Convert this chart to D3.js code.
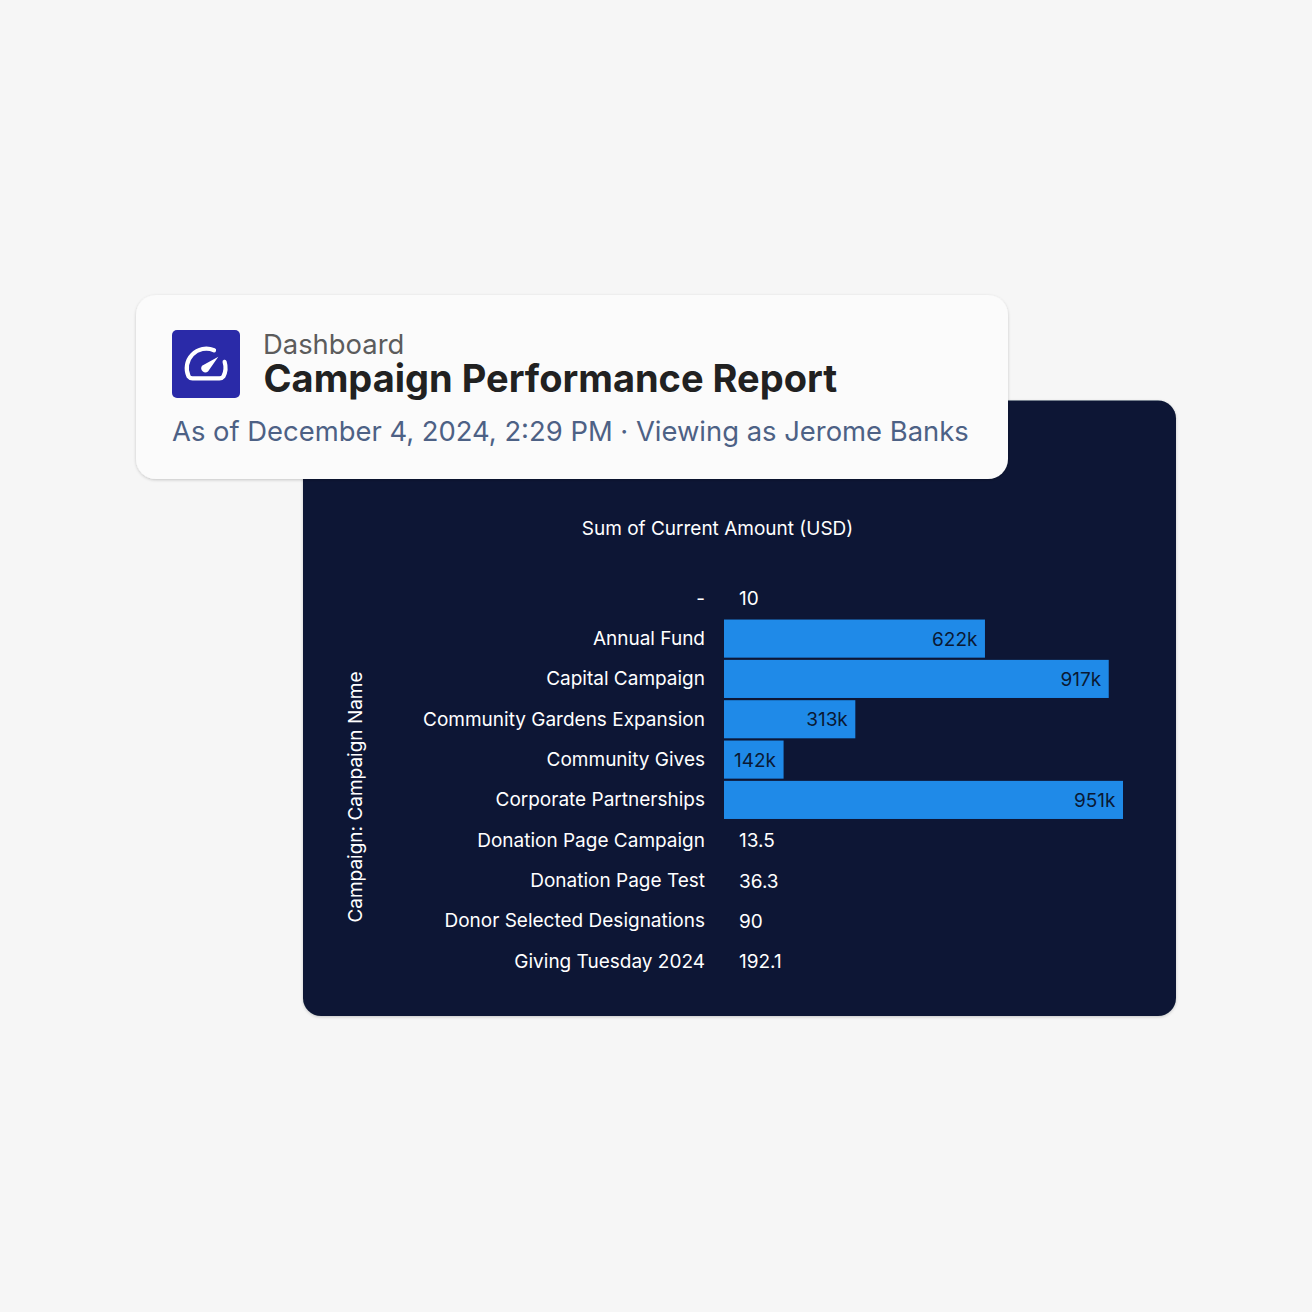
<!DOCTYPE html>
<html>
<head>
<meta charset="utf-8">
<script src="https://cdn.jsdelivr.net/npm/d3@7/dist/d3.min.js"></script>
<style>
html, body { margin: 0; padding: 0; background: #f6f6f6; }
svg { display: block; }
text { font-family: Inter, sans-serif; }
</style>
</head>
<body>
<svg id="chart" width="1312" height="1312"></svg>
<script>
// Campaign totals, in USD
const campaigns = ["-", "Annual Fund", "Capital Campaign", "Community Gardens Expansion", "Community Gives",
  "Corporate Partnerships", "Donation Page Campaign", "Donation Page Test", "Donor Selected Designations", "Giving Tuesday 2024"];
const amounts = [10, 622000, 917000, 313000, 142000, 951000, 13.5, 36.3, 90, 192.1];

const measureTitle = "Sum of Current Amount (USD)";
const dimensionTitle = "Campaign: Campaign Name";
const headerEyebrow = "Dashboard";
const headerTitle = "Campaign Performance Report";
const headerMeta = "As of December 4, 2024, 2:29 PM \u00b7 Viewing as Jerome Banks";

const svg = d3.select("#chart");
const defs = svg.append("defs");
const shadow = defs.append("filter").attr("id", "cardShadow")
  .attr("x", "-5%").attr("y", "-10%").attr("width", "110%").attr("height", "120%");
shadow.append("feDropShadow").attr("dx", 0).attr("dy", 1).attr("stdDeviation", 1.5)
  .attr("flood-color", "#000").attr("flood-opacity", 0.2);

// Dark report panel
svg.append("rect").attr("x", 303).attr("y", 400.5).attr("width", 873).attr("height", 615.5).attr("rx", 18)
  .attr("fill", "#0a1934").attr("filter", "url(#cardShadow)");

// Bar chart
const x = d3.scaleLinear().domain([0, 951000]).range([724, 1123]);
const y = d3.scaleBand().domain(campaigns).range([578, 981.5]).paddingInner(0.055).paddingOuter(0.03);
const chart = svg.append("g");

const axis = d3.axisLeft(y).tickSize(0).tickPadding(0);
const axisG = chart.append("g").attr("transform", "translate(705,0.3)").call(axis);
axisG.select(".domain").remove();
axisG.selectAll("text").attr("fill", "#ffffff").attr("font-size", 19).attr("font-family", "Inter, sans-serif");

const rows = campaigns.map((c, i) => ({ name: c, value: amounts[i] }));
chart.selectAll(".bar").data(rows).join("rect").attr("class", "bar")
  .attr("x", x(0))
  .attr("y", d => y(d.name))
  .attr("width", d => Math.max(0, x(d.value) - x(0)))
  .attr("height", y.bandwidth())
  .attr("fill", d => d.value >= 1000 ? "#1f8ae8" : "none");

const formatValue = v => v >= 1000 ? d3.format(".0f")(v / 1000) + "k" : String(v);
chart.selectAll(".value").data(rows).join("text").attr("class", "value")
  .attr("x", d => d.value >= 1000 ? x(d.value) - 7.5 : 739)
  .attr("y", d => y(d.name) + y.bandwidth() / 2 + 0.3)
  .attr("dy", "0.35em")
  .attr("text-anchor", d => d.value >= 1000 ? "end" : "start")
  .attr("font-size", 19)
  .attr("fill", d => d.value >= 1000 ? "#0a1934" : "#ffffff")
  .text(d => formatValue(d.value));

chart.append("text").attr("x", 717.5).attr("y", 535).attr("text-anchor", "middle")
  .attr("font-size", 19).attr("fill", "#ffffff").text(measureTitle);
chart.append("text").attr("transform", "translate(362,797) rotate(-90)").attr("text-anchor", "middle")
  .attr("font-size", 19).attr("fill", "#ffffff").text(dimensionTitle);

// Header card
const header = svg.append("g");
header.append("rect").attr("x", 136).attr("y", 295).attr("width", 872).attr("height", 184).attr("rx", 20)
  .attr("fill", "#fbfbfb").attr("filter", "url(#cardShadow)");

// Gauge icon
const icon = header.append("g");
icon.append("rect").attr("x", 172).attr("y", 330).attr("width", 68).attr("height", 68).attr("rx", 5).attr("fill", "#2a2aa8");
icon.append("path")
  .attr("d", "M214 350.3 A19.5 19.5 0 0 0 188.6 376.5 Q190 378.4 192.5 378.4 L219.5 378.4 Q222 378.4 223.4 376.5 A19.5 19.5 0 0 0 224.6 361.8")
  .attr("fill", "none").attr("stroke", "#ffffff").attr("stroke-width", 4.2).attr("stroke-linecap", "round");
icon.append("path")
  .attr("d", "M218.3 356.7 L208 371.5 A4.2 4.2 0 0 1 202 365.8 Z")
  .attr("fill", "#ffffff");

header.append("text").attr("x", 263).attr("y", 354).attr("font-size", 27.4).attr("fill", "#5c5c5c").text(headerEyebrow);
header.append("text").attr("x", 263.5).attr("y", 392).attr("font-size", 38).attr("font-weight", 700).attr("fill", "#212121").text(headerTitle);
header.append("text").attr("x", 172).attr("y", 441).attr("font-size", 27.4).attr("fill", "#4d6185").text(headerMeta);
</script>
</body>
</html>
